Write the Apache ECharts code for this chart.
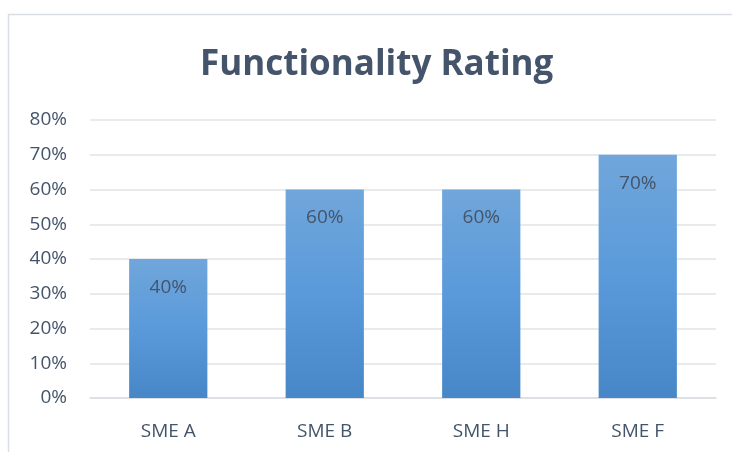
<!DOCTYPE html>
<html>
<head>
<meta charset="utf-8">
<script src="https://cdn.jsdelivr.net/npm/echarts@6/dist/echarts.min.js"></script>
<style>
  html, body { margin: 0; padding: 0; background: #fff; }
  #main { width: 732px; height: 452px; }
</style>
</head>
<body>
<div id="main"></div>
<script>
// chart data
var categories = ['SME A', 'SME B', 'SME H', 'SME F'];
var ratings = [40, 60, 60, 70];
var yMax = 80;
var yStep = 10;

var textColor = '#44546A';

var myChart = echarts.init(document.getElementById('main'));
myChart.setOption({
  backgroundColor: '#ffffff',
  animation: false,
  graphic: [{
    type: 'rect',
    shape: { x: 8.5, y: 14.5, width: 800, height: 500 },
    style: { fill: 'none', stroke: '#D9DEE4', lineWidth: 1.5 },
    silent: true
  }],
  title: {
    text: 'Functionality Rating',
    left: 195,
    top: 43,
    textStyle: {
      color: textColor,
      fontFamily: 'Open Sans',
      fontWeight: 'bold',
      fontSize: 35
    }
  },
  grid: { left: 90, right: 16, top: 120, bottom: 54 },
  xAxis: {
    type: 'category',
    data: categories,
    axisLine: { lineStyle: { color: '#D9DEE4', width: 1.5 } },
    axisTick: { show: false },
    axisLabel: {
      color: textColor,
      fontFamily: 'Open Sans',
      fontSize: 19,
      margin: 24
    }
  },
  yAxis: {
    type: 'value',
    min: 0,
    max: yMax,
    interval: yStep,
    axisLine: { show: false },
    axisTick: { show: false },
    splitLine: { lineStyle: { color: '#E1E4E9', width: 1.5 } },
    axisLabel: {
      color: textColor,
      fontFamily: 'Open Sans',
      fontSize: 19,
      margin: 23,
      formatter: '{value}%'
    }
  },
  series: [{
    name: 'Rating',
    type: 'bar',
    data: ratings,
    barWidth: '50%',
    itemStyle: {
      color: new echarts.graphic.LinearGradient(0, 0, 0, 1, [
        { offset: 0, color: '#70A6DB' },
        { offset: 0.5, color: '#5A9ADA' },
        { offset: 1, color: '#4787C7' }
      ])
    },
    label: {
      show: true,
      position: 'insideTop',
      distance: 19,
      color: textColor,
      fontFamily: 'Open Sans',
      fontSize: 19,
      formatter: '{c}%'
    }
  }]
});
</script>
</body>
</html>
